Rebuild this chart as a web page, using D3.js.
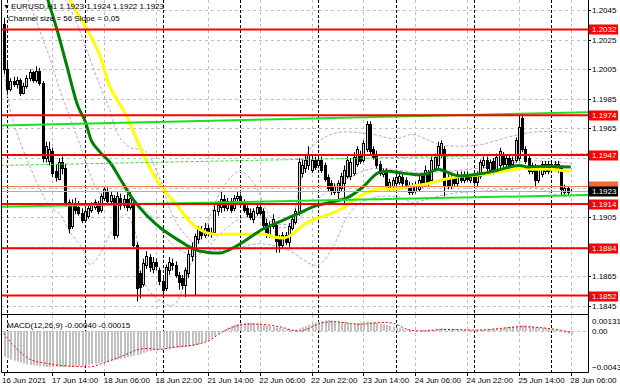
<!DOCTYPE html>
<html>
<head>
<meta charset="utf-8">
<title>EURUSD H1</title>
<script src="https://cdn.jsdelivr.net/npm/d3@7/dist/d3.min.js"></script>
<style>
  body { margin: 0; background: #fff; }
  #chart svg { display: block; font-family: "Liberation Sans", Arial, sans-serif; font-size: 8px; }
</style>
</head>
<body>
<div id="chart"></div>
<script>
// H1 candles, stored as pips: price = 1 + value / 10000
var opens = [2036,2005,1992,1997,1995,1998,1989,1994,1999,2003,1998,2004,
  1996,1945,1943,1950,1936,1931,1942,1938,
  1915,1899,1914,1912,1908,1903,1906,1910,1912,1914,1910,1918,1923,1916,1918,1893,
  1918,1913,1917,1912,1914,
  1886,1867,1860,1873,1878,1870,1875,1869,1862,
  1857,1869,1874,1873,1866,1864,1859,1867,1879,1883,1890,
  1896,1893,1898,1895,1895,1909,1912,1917,1911,1916,1911,1918,
  1919,1915,1911,1908,1904,1908,1912,1909,1901,1893,1899,1900,1890,1886,1893,1888,1898,1902,1908,
  1935,1938,1940,1937,1944,1940,1944,1940,1932,1928,1922,1922,1925,1928,1933,
  1933,1935,1941,1947,1944,1951,1968,1951,1947,1941,1934,1936,1924,1926,
  1928,1929,1932,1930,1927,1922,1923,1924,1933,1928,1935,1930,1938,1940,1947,1951,1932,1926,1932,1928,1933,1930,1934,1930,
  1934,1929,1933,1940,1944,1937,1943,1937,1940,1947,1941,1945,1941,1944,1945,1972,1951,1945,1936,1939,1930,1934,1936,1941,1937,1941,1937,1938,1922,1925,1923];
var highs = [2040,2010,1999,2000,2000,1999,1996,2001,2005,2004,2007,2006,
  1997,1956,1956,1952,1941,1945,1946,1941,
  1917,1917,1918,1916,1911,1911,1913,1915,1917,1916,1921,1925,1925,1922,1920,1922,
  1921,1920,1921,1922,1917,
  1888,1869,1877,1882,1880,1878,1877,1871,1864,
  1873,1878,1877,1875,1868,1866,1871,1883,1888,1894,1899,
  1899,1901,1900,1898,1913,1916,1922,1920,1918,1918,1920,1922,
  1921,1917,1913,1911,1911,1914,1915,1911,1904,1902,1907,1902,1893,1895,1895,1901,1906,1911,1945,
  1944,1947,1953,1947,1946,1946,1946,1942,1934,1930,1928,1930,1935,1940,1946,
  1945,1949,1953,1950,1957,1970,1970,1953,1950,1943,1938,1938,1931,1932,
  1935,1935,1934,1932,1929,1928,1929,1933,1935,1940,1937,1946,1948,1956,1957,1953,1934,1934,1934,1936,1936,1936,1936,1934,
  1936,1936,1944,1946,1946,1944,1945,1948,1952,1949,1947,1947,1946,1959,1975,1975,1953,1947,1942,1941,1940,1943,1943,1943,1943,1943,1943,1940,1927,1926,1924];
var lows = [2002,1988,1990,1993,1992,1987,1988,1992,1997,1996,1996,1994,
  1942,1942,1940,1932,1929,1930,1934,1912,
  1894,1897,1907,1906,1901,1902,1904,1908,1910,1907,1908,1916,1914,1913,1890,1891,
  1910,1911,1909,1910,1884,
  1848,1850,1858,1870,1868,1867,1869,1859,1852,
  1855,1866,1869,1864,1856,1856,1851,1864,1875,1852,1887,
  1890,1891,1892,1891,1893,1906,1908,1909,1909,1908,1909,1914,
  1912,1908,1905,1903,1901,1906,1906,1898,1891,1891,1897,1881,1881,1884,1886,1885,1896,1900,1906,
  1932,1935,1937,1935,1937,1938,1935,1929,1922,1920,1920,1917,1922,1912,1931,
  1930,1933,1939,1941,1942,1949,1947,1944,1938,1933,1932,1925,1922,1923,
  1926,1927,1926,1924,1920,1920,1921,1922,1925,1926,1926,1928,1936,1938,1945,1919,1924,1924,1926,1926,1928,1928,1929,1928,
  1927,1926,1931,1938,1936,1935,1934,1935,1938,1939,1939,1938,1939,1942,1943,1949,1941,1934,1934,1926,1928,1932,1934,1934,1935,1936,1935,1920,1920,1920,1922];
var closes = [2005,1992,1997,1995,1998,1989,1994,1999,2003,1998,2004,1996,
  1945,1953,1951,1935,1932,1942,1938,1915,
  1898,1914,1910,1908,1903,1909,1911,1913,1915,1909,1919,1924,1916,1920,1893,1919,
  1913,1917,1912,1918,1886,
  1857,1858,1874,1879,1871,1875,1872,1862,1856,
  1871,1875,1873,1866,1861,1859,1869,1880,1884,1892,1897,
  1893,1898,1895,1894,1910,1913,1917,1912,1916,1910,1918,1919,
  1914,1910,1907,1905,1909,1912,1908,1900,1893,1899,1904,1889,1886,1893,1888,1899,1904,1909,1942,
  1940,1944,1947,1944,1939,1944,1937,1931,1925,1923,1926,1928,1933,1937,1944,
  1942,1946,1951,1943,1955,1968,1950,1946,1940,1935,1936,1927,1929,1930,
  1932,1933,1928,1926,1922,1926,1927,1930,1927,1937,1928,1944,1946,1953,1955,1926,1927,1932,1928,1934,1930,1934,1931,1932,
  1929,1934,1942,1944,1938,1942,1936,1946,1950,1941,1945,1940,1944,1957,1966,1951,1943,1936,1940,1930,1938,1941,1941,1936,1941,1938,1941,1924,1925,1922,1923];

// moving averages (bar index -> pips)
var greenMaBars = [11,13.6,16.4,19.5,22.9,25.1,27.2,29.7,32.8,35.9,39.9,44.2,48.8,53.5,59,63.6,67.3,71.4,75.1,80,85.2,90.5,95.4,100.7,105.9,110.6,115.5,118.6,122.3,126,130,134,136.2,140.2,146,151,156.2,159.3,161.5,166.4,175];
var greenMaVals = [2070,2052,2032,2007,1980,1970,1956,1949,1942,1931,1917,1906,1897,1890,1883,1881,1881,1885,1890,1897,1902,1907,1912,1915,1918,1925,1935,1936,1935,1934,1934,1937.5,1936,1933,1934,1936,1939,1940,1939,1939.5,1939];
var yellowMaBars = [18,20.4,26,29.7,32.8,38,41.7,44.8,48.8,53.5,57.5,61.5,65.2,70.4,76,80.6,83.7,86.8,89,91.4,95.1,99.1,103.8,106.9,110.6,115.5,120.7,126,131.5,136.8,142.3,147,152.2,157.2,160,162.4,168.6,175];
var yellowMaVals = [2069,2052,2031,2014,1993,1973,1954,1939.5,1925,1913,1902,1895.5,1893.5,1893.5,1893.5,1893.5,1891.5,1891,1893.5,1898,1903,1906,1910,1915,1920,1924,1924,1926,1928,1931,1933,1933.5,1935.5,1937,1938.5,1937.5,1937.5,1936];

// dashed violet bands
var upperBars = [17.4,22,26.6,29.7,32.8,35.2,39,43.6,47.6,51.9,55.9,59.6,62.7,67.3,72.9,77.5,81.2,85.2,88.3,91.4,94.5,99.1,103.8,114,120.7,126.3,130,134.6,140.8,147,157.2,163.3,169.5,175];
var upperVals = [2059,2039,2012,1994,1977,1961,1952,1950,1934,1907,1893.5,1887,1900,1924,1936,1927,1909,1898,1900,1927,1951,1959,1962.5,1961,1958,1961,1958,1954,1953,1954,1960,1962.5,1963,1962.5];
var midBars = [6.5,10.6,14.3,16.7,19.5,23.5,26.6,29.7,34.3,39,43.6,48.2,52.8,57.5,62.1,66.7,72.9,79.1,85.2,89.9,94.5,100.7,106.9,113,119.2,128.5,136.2,143.9,153.2,161.5,175];
var midVals = [2059,2034,2012,1995,1978,1954,1934,1921,1914,1914,1910,1897,1885,1880,1883,1893.5,1904,1905,1900,1902,1912,1924,1932,1937.5,1937.5,1935,1936,1937.5,1940,1943,1941.5];
var lowBars = [0,1.9,5,11.2,14.3,17.3,20.4,24.5,26.6,29.7,32.8,37.4,40.5,42.7,47.6,52.2,55.9,58.1,62.1,69.8,79.1,87.4,96.7,101.6,105.9,109.9,116.1,122.3,126.3,130.6,136.8,147,157.2,163.3,170.7,175];
var lowVals = [2005,1978,1956,1924,1912,1907,1895,1883,1873,1880,1893.5,1907,1895.5,1863,1849.5,1845.5,1860,1875,1882,1883,1887,1883,1872.5,1885,1905,1914.5,1919,1918.5,1915,1917,1920.5,1922.5,1924,1925.3,1920,1918.5];

// linear regression channel, ends given at bar -1 and bar 181
var channelBars = [-1, 181];
var channelUpper = [1.1967, 1.1976];
var channelMiddle = [1.1940, 1.1948];
var channelLower = [1.1912, 1.1920];

var levels = [1.2032, 1.1974, 1.1947, 1.1914, 1.1884, 1.1852];
var priceTicks = [1.2045, 1.2025, 1.2005, 1.1985, 1.1965, 1.1945, 1.1925, 1.1905, 1.1885, 1.1865, 1.1845];
var bidPrice = 1.1923;
var askPrice = 1.1926;

var timeLabels = ["16 Jun 2021", "17 Jun 14:00", "18 Jun 06:00", "18 Jun 22:00", "21 Jun 14:00", "22 Jun 06:00",
  "22 Jun 22:00", "23 Jun 14:00", "24 Jun 06:00", "24 Jun 22:00", "25 Jun 14:00", "28 Jun 06:00"];
var timeLabelBars = [0, 15, 31, 47, 63, 79, 95, 111, 127, 143, 159, 175];
var daySeparators = [1, 25, 49, 73, 97, 121, 145, 169];

// MACD main (histogram) in units of 0.00001, signal sampled
var macdHist = [-310,-325,-340,-355,-368,-378,-388,-398,-405,-410,
  -415,-418,-425,-428,-430,-430,-428,-430,-430,-428,
  -430,-428,-425,-420,-418,-412,-405,-398,-390,-382,
  -375,-368,-360,-350,-345,-340,-332,-325,-315,-305,
  -298,-290,-280,-262,-250,-240,-232,-228,-222,-218,
  -212,-208,-205,-200,-198,-195,-192,-188,-180,-170,
  -158,-140,-122,-100,-80,-60,-35,-10,15,40,
  60,75,85,92,98,100,98,95,90,82,
  72,65,58,50,42,38,30,22,16,15,
  18,30,45,58,72,88,100,110,118,125,
  131,128,122,115,110,105,98,92,90,95,
  102,108,112,110,105,98,88,80,70,60,
  50,40,32,25,18,12,10,10,12,14,
  15,16,18,22,28,32,30,28,25,22,
  18,16,15,15,14,15,16,18,20,22,
  25,28,32,36,40,45,50,55,62,68,
  72,70,65,58,50,45,42,38,32,25,
  15,5,-8,-20,-32,-40];
var signalBars = [0,2.5,6.2,8.7,13.6,17.3,23.5,27.2,30.9,35.9,40.8,43.3,48.2,53.1,58.1,63,68,72.9,79.1,85.2,90.2,92.7,97.6,101.3,105,109.9,116.1,120.4,124.8,129.7,134.6,140.8,147,153.2,159.3,165.5,171.7,175];
var signalVals = [-30,-150,-290,-350,-390,-410,-425,-425,-380,-310,-230,-210,-220,-190,-170,-120,0,70,80,50,0,10,90,110,100,80,100,90,16,0,16,16,10,30,50,40,10,-15];
var macdTicks = [0.00131, 0, -0.0043];

var width = 620, height = 388;
var plot = { left: 1, right: 588, top: 0, bottom: 314 };
var sub = { top: 315, bottom: 372 };

var x = d3.scaleLinear().domain([0, 175]).range([3.8, 570.8]);
var y = d3.scaleLinear().domain([1.1845, 1.2045]).range([305.9, 10.2]);
var yMacd = d3.scaleLinear().domain([-0.0043, 0.00131]).range([367, 320]);

function price(v) { return 1 + v / 10000; }
function snap(v) { return Math.round(v) + 0.5; }
function pairs(bars, vals) { return bars.map(function (b, k) { return [b, price(vals[k])]; }); }

var svg = d3.select("#chart").append("svg")
    .attr("width", width)
    .attr("height", height);

var defs = svg.append("defs");
defs.append("clipPath").attr("id", "clipMain").append("rect")
    .attr("x", plot.left).attr("y", plot.top)
    .attr("width", plot.right - plot.left).attr("height", plot.bottom - plot.top);
defs.append("clipPath").attr("id", "clipSub").append("rect")
    .attr("x", plot.left).attr("y", sub.top)
    .attr("width", plot.right - plot.left).attr("height", sub.bottom - sub.top);

var main = svg.append("g").attr("clip-path", "url(#clipMain)");
var macd = svg.append("g").attr("clip-path", "url(#clipSub)");

////////////////////////////////
// grid + separators
main.selectAll(".hgrid")
    .data(priceTicks)
    .enter().append("line")
    .attr("x1", plot.left).attr("x2", plot.right)
    .attr("y1", function (d) { return snap(y(d)); })
    .attr("y2", function (d) { return snap(y(d)); })
    .attr("stroke", "#c0c0c0")
    .attr("stroke-dasharray", "3,3");

[main, macd].forEach(function (g, k) {
    var top = k === 0 ? plot.top : sub.top;
    var bot = k === 0 ? plot.bottom : sub.bottom;
    g.selectAll(".vgrid")
        .data(timeLabelBars.slice(1))
        .enter().append("line")
        .attr("x1", function (d) { return snap(x(d)); })
        .attr("x2", function (d) { return snap(x(d)); })
        .attr("y1", top).attr("y2", bot)
        .attr("stroke", "#c0c0c0")
        .attr("stroke-dasharray", "3,3");
    g.selectAll(".sep")
        .data(daySeparators)
        .enter().append("line")
        .attr("x1", function (d) { return snap(x(d)); })
        .attr("x2", function (d) { return snap(x(d)); })
        .attr("y1", top).attr("y2", bot)
        .attr("stroke", "#000")
        .attr("stroke-dasharray", "3,2");
});

////////////////////////////////
// bands
var line = d3.line()
    .x(function (d) { return x(d[0]); })
    .y(function (d) { return y(d[1]); })
    .curve(d3.curveCatmullRom);

[[upperBars, upperVals], [midBars, midVals], [lowBars, lowVals]].forEach(function (b) {
    main.append("path")
        .attr("d", line(pairs(b[0], b[1])))
        .attr("fill", "none")
        .attr("stroke", "#c79be6")
        .attr("stroke-width", 1)
        .attr("stroke-dasharray", "3,2");
});

////////////////////////////////
// candles
var candles = closes.map(function (c, i) {
    return { i: i, o: price(opens[i]), h: price(highs[i]), l: price(lows[i]), c: price(c) };
});

main.selectAll(".wick")
    .data(candles)
    .enter().append("line")
    .attr("x1", function (d) { return snap(x(d.i)); })
    .attr("x2", function (d) { return snap(x(d.i)); })
    .attr("y1", function (d) { return y(Math.max(d.h, d.o, d.c)); })
    .attr("y2", function (d) { return y(Math.min(d.l, d.o, d.c)); })
    .attr("stroke", "#000");

main.selectAll(".body")
    .data(candles)
    .enter().append("rect")
    .attr("x", function (d) { return Math.round(x(d.i)) - 0.5; })
    .attr("y", function (d) { return Math.round(y(Math.max(d.o, d.c))) + 0.5; })
    .attr("width", 2)
    .attr("height", function (d) {
        return Math.max(Math.round(y(Math.min(d.o, d.c))) - Math.round(y(Math.max(d.o, d.c))), 0);
    })
    .attr("fill", function (d) { return d.c >= d.o ? "#d8d8d8" : "#000"; })
    .attr("stroke", "#000");

////////////////////////////////
// moving averages
main.append("path")
    .attr("d", line(pairs(yellowMaBars, yellowMaVals)))
    .attr("fill", "none")
    .attr("stroke", "#ffff00")
    .attr("stroke-width", 3);

main.append("path")
    .attr("d", line(pairs(greenMaBars, greenMaVals)))
    .attr("fill", "none")
    .attr("stroke", "#008000")
    .attr("stroke-width", 3);

////////////////////////////////
// channel + levels
var straight = d3.line()
    .x(function (d) { return x(d[0]); })
    .y(function (d) { return y(d[1]); });

[channelUpper, channelLower].forEach(function (c) {
    main.append("path")
        .attr("d", straight(channelBars.map(function (b, k) { return [b, c[k]]; })))
        .attr("stroke", "#1fe01f")
        .attr("stroke-width", 2);
});
main.append("path")
    .attr("d", straight(channelBars.map(function (b, k) { return [b, channelMiddle[k]]; })))
    .attr("stroke", "#33dd33")
    .attr("stroke-dasharray", "3,2");

main.selectAll(".level")
    .data(levels)
    .enter().append("line")
    .attr("x1", plot.left).attr("x2", plot.right)
    .attr("y1", function (d) { return y(d); })
    .attr("y2", function (d) { return y(d); })
    .attr("stroke", "#ff0000")
    .attr("stroke-width", 2);

main.append("line")
    .attr("x1", plot.left).attr("x2", plot.right)
    .attr("y1", snap(y(askPrice))).attr("y2", snap(y(askPrice)))
    .attr("stroke", "#f08050");
main.append("line")
    .attr("x1", plot.left).attr("x2", plot.right)
    .attr("y1", snap(y(bidPrice))).attr("y2", snap(y(bidPrice)))
    .attr("stroke", "#b0b0b0");

////////////////////////////////
// MACD
macd.append("line")
    .attr("x1", plot.left).attr("x2", plot.right)
    .attr("y1", snap(yMacd(0))).attr("y2", snap(yMacd(0)))
    .attr("stroke", "#c0c0c0")
    .attr("stroke-dasharray", "3,3");

macd.selectAll(".hist")
    .data(macdHist)
    .enter().append("rect")
    .attr("x", function (d, i) { return Math.round(x(i)); })
    .attr("width", 2)
    .attr("y", function (d) { return Math.min(yMacd(d / 1e5), yMacd(0)); })
    .attr("height", function (d) { return Math.abs(yMacd(d / 1e5) - yMacd(0)); })
    .attr("fill", "#c0c0c0");

macd.append("path")
    .attr("d", d3.line()
        .x(function (d) { return x(d[0]); })
        .y(function (d) { return yMacd(d[1] / 1e5); })
        .curve(d3.curveCatmullRom)(signalBars.map(function (b, k) { return [b, signalVals[k]]; })))
    .attr("fill", "none")
    .attr("stroke", "#ff0000")
    .attr("stroke-dasharray", "2,2");

////////////////////////////////
// frames
svg.append("path")
    .attr("d", "M1.5,0V" + (sub.bottom + 0.5) + "H588.5V0")
    .attr("fill", "none").attr("stroke", "#000");
svg.append("line")
    .attr("x1", 1).attr("x2", 589)
    .attr("y1", plot.bottom + 0.5).attr("y2", plot.bottom + 0.5)
    .attr("stroke", "#000");

////////////////////////////////
// price axis (tick labels hidden behind a tag are skipped, as on the terminal)
var tagged = levels.concat([askPrice, bidPrice]);
var freeTicks = priceTicks.filter(function (t) {
    return tagged.every(function (v) { return Math.abs(y(v) - y(t)) > 8; });
});

var axisG = svg.append("g");
axisG.selectAll(".ptick")
    .data(priceTicks)
    .enter().append("line")
    .attr("x1", 588).attr("x2", 591)
    .attr("y1", function (d) { return snap(y(d)); })
    .attr("y2", function (d) { return snap(y(d)); })
    .attr("stroke", "#000");
axisG.selectAll(".plabel")
    .data(freeTicks)
    .enter().append("text")
    .attr("x", 592)
    .attr("y", function (d) { return y(d) + 3; })
    .text(function (d) { return d.toFixed(4); });

function tag(value, fill, withText) {
    axisG.append("rect")
        .attr("x", 589).attr("y", Math.round(y(value)) - 4.5)
        .attr("width", 29).attr("height", 10)
        .attr("fill", fill);
    if (withText) {
        axisG.append("text")
            .attr("x", 592).attr("y", Math.round(y(value)) + 3)
            .attr("fill", "#fff")
            .text(value.toFixed(4));
    }
}
levels.forEach(function (d) { tag(d, "#ff0000", true); });
tag(askPrice, "#f06a3a", false);
tag(bidPrice, "#000", true);

// MACD scale
svg.selectAll(".mlabel")
    .data(macdTicks)
    .enter().append("text")
    .attr("x", 592)
    .attr("y", function (d) { return Math.min(Math.max(yMacd(d), 321), 367) + 3; })
    .text(function (d) { return d === 0 ? "0.00" : d3.format("")(d); });

////////////////////////////////
// time axis
svg.selectAll(".ttick")
    .data(timeLabelBars)
    .enter().append("line")
    .attr("x1", function (d) { return snap(x(d)); })
    .attr("x2", function (d) { return snap(x(d)); })
    .attr("y1", sub.bottom).attr("y2", sub.bottom + 4)
    .attr("stroke", "#000");
svg.selectAll(".tlabel")
    .data(timeLabels)
    .enter().append("text")
    .attr("x", function (d, i) { return i === 0 ? 2 : x(timeLabelBars[i]) - 0.5; })
    .attr("y", 383)
    .text(function (d) { return d; });

////////////////////////////////
// titles
svg.append("text").attr("x", 3).attr("y", 9).style("font-size", "7px").text("\u25BC");
svg.append("text").attr("x", 11).attr("y", 9)
    .text("EURUSD,H1  1.1923 1.1924 1.1922 1.1923");
svg.append("text").attr("x", 8).attr("y", 21)
    .text("Channel size = 56 Slope = 0,05");
svg.append("text").attr("x", 7).attr("y", 328)
    .text("MACD(12,26,9) -0.00040 -0.00015");
</script>
</body>
</html>
